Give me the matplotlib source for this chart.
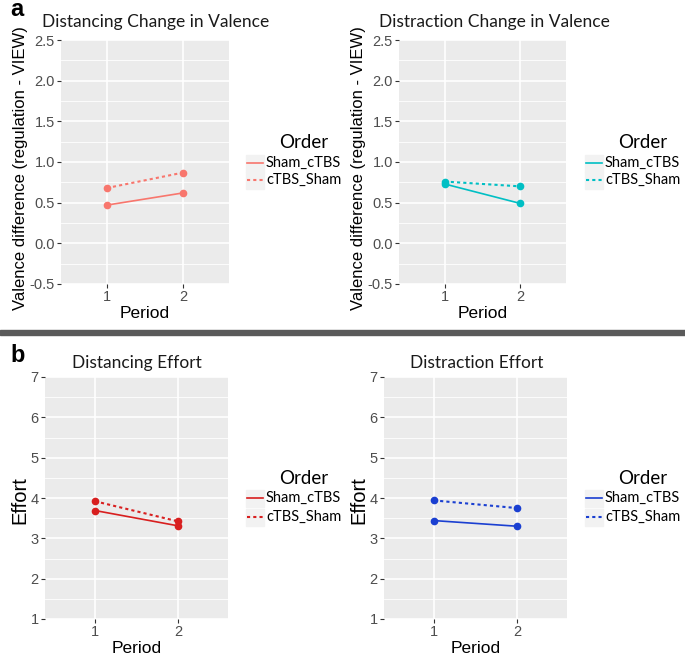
import matplotlib
matplotlib.use('Agg')
import matplotlib.pyplot as plt
from matplotlib.patches import Rectangle
from matplotlib.lines import Line2D

W, H = 685, 656

periods = [1, 2]
orders = ['Sham_cTBS', 'cTBS_Sham']

# panel a: valence difference
dist_val_sham_ctbs = [0.47, 0.62]
dist_val_ctbs_sham = [0.68, 0.87]
distr_val_sham_ctbs = [0.73, 0.49]
distr_val_ctbs_sham = [0.76, 0.70]

# panel b: effort
dist_eff_sham_ctbs = [3.69, 3.31]
dist_eff_ctbs_sham = [3.92, 3.42]
distr_eff_sham_ctbs = [3.44, 3.30]
distr_eff_ctbs_sham = [3.94, 3.75]

title_font = 'Lato'
axis_font = 'Liberation Sans'

fig = plt.figure(figsize=(W / 100, H / 100), dpi=100)


def px_axes(x0, y0, x1, y1):
    return fig.add_axes([x0 / W, 1 - y1 / H, (x1 - x0) / W, (y1 - y0) / H])


def fx(x):
    return x / W


def fy(y):
    return 1 - y / H


def panel(box, s1, s2, color, title, title_xy, ylabel, ylabel_xy, ylab_size, ylim, yticks, yminor, leg):
    ax = px_axes(*box)
    ax.set_facecolor('#EBEBEB')
    for s in ax.spines.values():
        s.set_visible(False)
    ax.set_xlim(0.4, 2.6)
    ax.set_ylim(*ylim)
    ax.set_xticks(periods)
    ax.set_yticks(yticks)
    ax.set_yticks(yminor, minor=True)
    ax.grid(True, which='major', color='white', lw=1.2)
    ax.grid(True, which='minor', axis='y', color='white', lw=0.6)
    ax.set_axisbelow(True)
    ax.tick_params(which='major', length=3, width=0.8, color='#333333', labelcolor='#4D4D4D',
                   labelsize=10.5, pad=1.5)
    ax.tick_params(which='minor', length=0)
    for lab in ax.get_xticklabels() + ax.get_yticklabels():
        lab.set_fontfamily(axis_font)
    ax.plot(periods, s1, color=color, lw=1.2, ls='-', marker='o', ms=4.5)
    ax.plot(periods, s2, color=color, lw=1.5, ls=(0, (1.5, 1.5)), marker='o', ms=4.5)
    ax.set_xlabel('Period', fontfamily=axis_font, fontsize=12.5, labelpad=1)
    fig.text(fx(ylabel_xy[0]), fy(ylabel_xy[1]), ylabel, rotation=90, ha='center', va='center',
             fontfamily=axis_font, fontsize=ylab_size)
    fig.text(fx(title_xy[0]), fy(title_xy[1]), title, ha='center', va='center',
             fontfamily=title_font, fontsize=12.5, color='#1A1A1A')
    # legend
    kx, tx, ty, e1, e2 = leg
    fig.text(fx(tx), fy(ty), 'Order', ha='left', va='center', fontfamily=title_font, fontsize=13.5)
    for ey, ls, lw, lab in [(e1, '-', 1.2, orders[0]), (e2, (0, (1.5, 1.5)), 1.5, orders[1])]:
        fig.patches.append(Rectangle((fx(kx - 1), fy(ey + 8.5)), 18 / W, 17 / H,
                                     transform=fig.transFigure, color='#F2F2F2', zorder=0))
        fig.lines.append(Line2D([fx(kx), fx(kx + 16)], [fy(ey), fy(ey)], transform=fig.transFigure,
                                color=color, lw=lw, ls=ls))
        fig.text(fx(kx + 19), fy(ey), lab, ha='left', va='center', fontfamily=title_font, fontsize=10.5)
    return ax


val_ticks = [-0.5, 0.0, 0.5, 1.0, 1.5, 2.0, 2.5]
val_minor = [-0.25, 0.25, 0.75, 1.25, 1.75, 2.25]
val_labels = ['-0.5', '0.0', '0.5', '1.0', '1.5', '2.0', '2.5']
eff_ticks = [1, 2, 3, 4, 5, 6, 7]
eff_minor = [1.5, 2.5, 3.5, 4.5, 5.5, 6.5]

ax1 = panel((61, 40, 229, 284), dist_val_sham_ctbs, dist_val_ctbs_sham, '#F8766D',
            'Distancing Change in Valence', (156, 22), 'Valence difference (regulation - VIEW)', (21, 168), 12,
            (-0.5, 2.5), val_ticks, val_minor, (247, 279, 143, 163, 180))
ax1.set_yticklabels(val_labels, fontfamily=axis_font)
ax2 = panel((399, 40, 566, 284), distr_val_sham_ctbs, distr_val_ctbs_sham, '#00BFC4',
            'Distraction Change in Valence', (494, 22), 'Valence difference (regulation - VIEW)', (359, 168), 12,
            (-0.5, 2.5), val_ticks, val_minor, (586, 618, 143, 163, 180))
ax2.set_yticklabels(val_labels, fontfamily=axis_font)
ax3 = panel((45, 377, 228, 619), dist_eff_sham_ctbs, dist_eff_ctbs_sham, '#D81F1F',
            'Distancing Effort', (137, 363), 'Effort', (20, 500), 14.5,
            (1, 7), eff_ticks, eff_minor, (247, 279, 478, 498, 517))
ax4 = panel((384, 377, 567, 619), distr_eff_sham_ctbs, distr_eff_ctbs_sham, '#1A3FD1',
            'Distraction Effort', (477, 363), 'Effort', (359, 500), 14.5,
            (1, 7), eff_ticks, eff_minor, (586, 618, 478, 498, 517))

# separator between a and b
fig.patches.append(Rectangle((0, fy(335)), 1, 5 / H, transform=fig.transFigure, color='#5A5A5A'))

fig.text(fx(10), fy(10), 'a', ha='left', va='center', fontfamily=axis_font, fontsize=17, fontweight='bold')
fig.text(fx(10), fy(356), 'b', ha='left', va='center', fontfamily=axis_font, fontsize=17, fontweight='bold')

fig.savefig('out.png', dpi=100)
